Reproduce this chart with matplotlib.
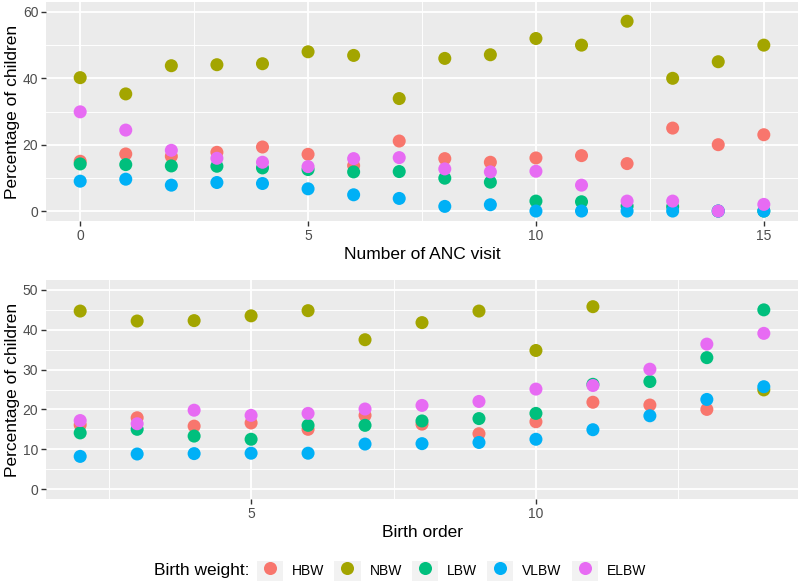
import numpy as np
import matplotlib
matplotlib.use('Agg')
import matplotlib.pyplot as plt
from matplotlib.patches import Patch
from matplotlib.lines import Line2D
from matplotlib.legend_handler import HandlerTuple

plt.rcParams['font.family'] = ['Liberation Sans', 'DejaVu Sans']

categories = ['HBW', 'NBW', 'LBW', 'VLBW', 'ELBW']
colors = ['#F8766D', '#A3A500', '#00BF7D', '#00B0F6', '#E76BF3']
nan = np.nan

# Panel 1: Number of ANC visit
anc_visits = list(range(16))
anc_hbw = [15.0, 17.2, 16.5, 17.7, 19.3, 17.1, 13.7, 21.1, 15.8, 14.7, 16.0, 16.7, 14.3, 25.0, 20.0, 23.0]
anc_nbw = [40.2, 35.3, 43.8, 44.1, 44.4, 48.0, 46.9, 33.9, 46.0, 47.1, 52.0, 50.0, 57.2, 40.0, 45.0, 50.0]
anc_lbw = [14.2, 14.0, 13.6, 13.5, 13.0, 12.5, 11.8, 11.9, 9.9, 8.7, 3.0, 2.8, 1.5, 1.3, 0.0, 0.0]
anc_vlbw = [9.0, 9.6, 7.8, 8.6, 8.3, 6.7, 4.9, 3.8, 1.4, 1.9, 0.0, 0.0, 0.0, 0.0, 0.0, 0.0]
anc_elbw = [29.9, 24.4, 18.3, 15.9, 14.7, 13.4, 15.8, 16.1, 12.7, 11.8, 12.0, 7.8, 3.0, 3.0, 0.0, 2.0]

# Panel 2: Birth order
birth_order = list(range(2, 15))
bo_hbw = [16.1, 17.9, 15.8, 16.6, 15.0, 18.5, 16.3, 13.9, 16.9, 21.8, 21.1, 20.0, nan]
bo_nbw = [44.7, 42.2, 42.3, 43.5, 44.8, 37.5, 41.8, 44.7, 34.8, 45.8, nan, nan, 24.9]
bo_lbw = [14.1, 15.0, 13.3, 12.5, 16.0, 16.0, 17.1, 17.7, 19.0, 26.3, 27.0, 33.0, 45.0]
bo_vlbw = [8.2, 8.8, 8.9, 9.0, 9.0, 11.3, 11.4, 11.7, 12.5, 14.9, 18.4, 22.5, 25.7]
bo_elbw = [17.2, 16.4, 19.8, 18.5, 19.0, 20.1, 21.0, 22.0, 25.1, 26.0, 30.1, 36.4, 39.1]

W, H = 800, 587
fig = plt.figure(figsize=(W / 100, H / 100), dpi=100)


def style_axes(ax, xmaj, xmin, ymaj, ymin, xlim, ylim, xlabel):
    ax.set_facecolor('#EBEBEB')
    for s in ax.spines.values():
        s.set_visible(False)
    ax.set_xlim(*xlim)
    ax.set_ylim(*ylim)
    ax.set_xticks(xmaj)
    ax.set_xticks(xmin, minor=True)
    ax.set_yticks(ymaj)
    ax.set_yticks(ymin, minor=True)
    ax.grid(which='major', color='white', lw=1.3)
    ax.grid(which='minor', color='white', lw=0.65)
    ax.set_axisbelow(True)
    ax.tick_params(which='major', length=3.5, width=1.0, color='#333333',
                   labelcolor='#4D4D4D', labelsize=10, pad=2)
    ax.tick_params(which='minor', length=0)
    ax.set_xlabel(xlabel, fontsize=12.5, color='black', labelpad=3)
    ax.set_ylabel('Percentage of children', fontsize=12.5, color='black')


def px_axes(l, r, t, b):
    return fig.add_axes([l / W, (H - b) / H, (r - l) / W, (b - t) / H])


ms = 88
ax1 = px_axes(46, 798, 2, 221)
series1 = [anc_hbw, anc_nbw, anc_lbw, anc_vlbw, anc_elbw]
for i, (vals, c) in enumerate(zip(series1, colors)):
    ax1.scatter(anc_visits, vals, s=ms, color=c, edgecolors='none', zorder=3 + i)
style_axes(ax1, [0, 5, 10, 15], [2.5, 7.5, 12.5], [0, 20, 40, 60], [10, 30, 50],
           (-0.75, 15.75), (-3, 63), 'Number of ANC visit')

ax2 = px_axes(46, 798, 280, 499)
series2 = [bo_hbw, bo_nbw, bo_lbw, bo_vlbw, bo_elbw]
for i, (vals, c) in enumerate(zip(series2, colors)):
    ax2.scatter(birth_order, vals, s=ms, color=c, edgecolors='none', zorder=3 + i)
style_axes(ax2, [5, 10], [2.5, 7.5, 12.5], [0, 10, 20, 30, 40, 50], [5, 15, 25, 35, 45],
           (1.4, 14.6), (-2.5, 52.5), 'Birth order')

for ax in (ax1, ax2):
    ax.yaxis.set_label_coords(-26 / 752, 0.5)

handles = [(Patch(facecolor='#F2F2F2', edgecolor='none'),
            Line2D([], [], marker='o', linestyle='', color=c, markeredgewidth=0, markersize=9.4))
           for c in colors]
leg = fig.legend(handles=handles, labels=categories,
                 handler_map={tuple: HandlerTuple(ndivide=1, pad=0)},
                 ncol=5, loc='center', bbox_to_anchor=(451.5 / W, (H - 571) / H),
                 frameon=False, handlelength=1.9, handleheight=1.9, handletextpad=0.65,
                 columnspacing=0.7, fontsize=10, borderpad=0, borderaxespad=0)
fig.text(250 / W, (H - 571) / H, 'Birth weight:', ha='right', va='center', fontsize=12.5)

fig.savefig('out.png', dpi=100)
